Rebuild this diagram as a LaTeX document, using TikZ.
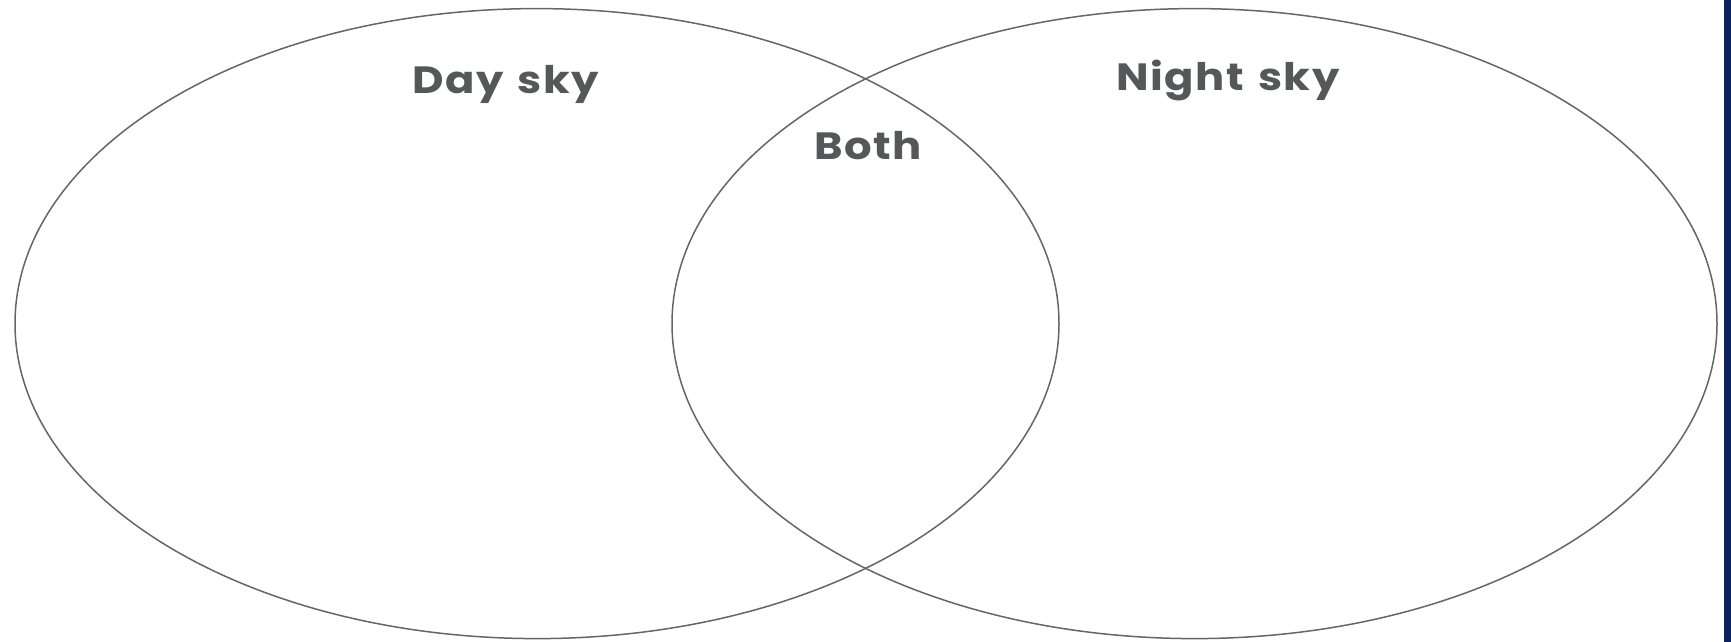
\documentclass[tikz,border=0pt]{standalone}
\usepackage{fontspec}
\setmainfont{Poppins}[UprightFont=* Bold, BoldFont=* Bold, FakeStretch=1.14, LetterSpace=4, WordSpace=1.3]
\definecolor{txt}{HTML}{555759}
\definecolor{linec}{HTML}{666666}
\definecolor{navy}{HTML}{0B2260}
\begin{document}
\begin{tikzpicture}[x=0.5pt,y=-0.5pt,
  venn/.style={draw=linec, line width=0.75pt},
  lbl/.style={text=txt, font=\fontsize{19}{22}\selectfont, anchor=base, inner sep=0pt}]
\useasboundingbox (0,0) rectangle (1731,642);
\fill[white] (0,0) rectangle (1731,642);
\fill[navy] (1724,0) rectangle (1731,642);
\draw[venn] (537,323.6) ellipse [x radius=522, y radius=315];
\draw[venn] (1194.5,323.6) ellipse [x radius=522.5, y radius=315];
\node[lbl] (day) at (506,94) {Day sky};
\node[lbl] (both) at (868,160) {Both};
\node[lbl] (night) at (1228,91) {Night sky};
\end{tikzpicture}
\end{document}
